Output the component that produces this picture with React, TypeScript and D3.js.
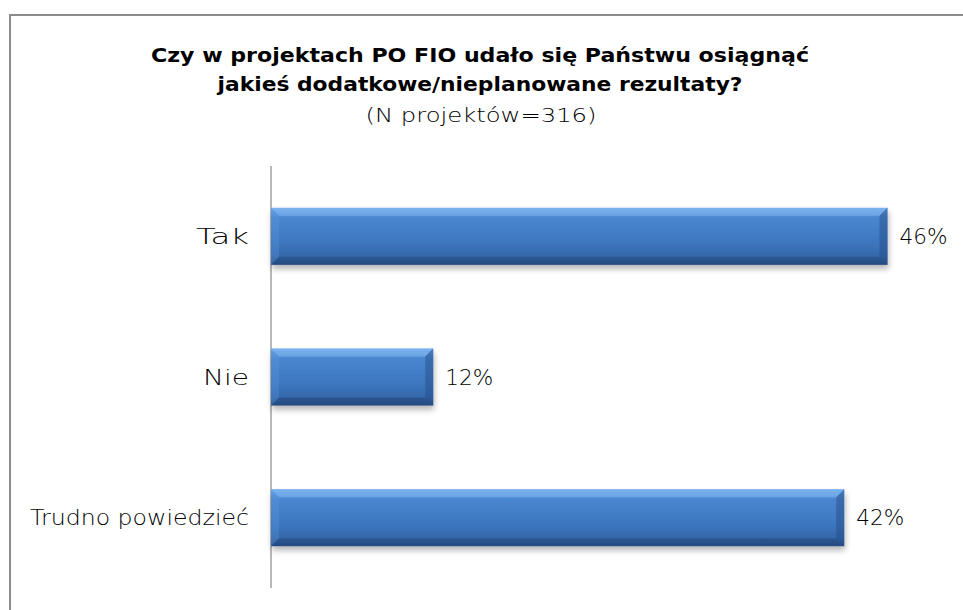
import React from "react";
import * as d3 from "d3";

const categories = ["Tak", "Nie", "Trudno powiedzieć"];
const values = [45.6, 12.0, 42.4];
const titleLines = [
  "Czy w projektach PO FIO udało się  Państwu osiągnąć",
  "jakieś dodatkowe/nieplanowane rezultaty?",
];
const subtitle = "(N projektów=316)";

const W = 963;
const H = 610;
const axisX = 271;
const plotTop = 166;
const plotBottom = 588;

const titleWidths = [658, 525];
const labelWidths = [53, 46, 219];

export default function App() {
  const x = d3.scaleLinear().domain([0, 50]).range([axisX, axisX + 50 * 13.52]);
  const y = d3
    .scaleBand<string>()
    .domain(categories)
    .range([plotTop, plotBottom])
    .paddingInner(0.595)
    .paddingOuter(0.2975);
  const bh = y.bandwidth();
  const font = "'DejaVu Sans', sans-serif";
  return (
    <svg
      width={W}
      height={H}
      style={{ position: "absolute", left: 0, top: 0, background: "#fff" }}
    >
      <defs>
        <linearGradient id="barGrad" x1="0" y1="0" x2="0" y2="1">
          <stop offset="0" stopColor="#6aa6ea" />
          <stop offset="0.18" stopColor="#4a86d0" />
          <stop offset="0.6" stopColor="#3d77c0" />
          <stop offset="0.85" stopColor="#3568ab" />
          <stop offset="1" stopColor="#2a5289" />
        </linearGradient>
        <filter id="shadow" x="-5%" y="-20%" width="110%" height="160%">
          <feGaussianBlur in="SourceAlpha" stdDeviation="3" />
          <feOffset dx="1" dy="4" result="b" />
          <feComponentTransfer>
            <feFuncA type="linear" slope="0.3" />
          </feComponentTransfer>
          <feMerge>
            <feMergeNode />
            <feMergeNode in="SourceGraphic" />
          </feMerge>
        </filter>
      </defs>
      <rect x={10} y={15} width={W + 10} height={H + 10} fill="#fff" stroke="#8c8c8c" strokeWidth={2} />
      <g fontFamily={font} textAnchor="middle" fill="#000">
        {titleLines.map((t, i) => (
          <text
            key={i}
            x={480}
            y={62 + i * 29}
            fontSize={20}
            fontWeight={700}
            textLength={titleWidths[i]}
            lengthAdjust="spacingAndGlyphs"
          >
            {t}
          </text>
        ))}
        <text
          x={481}
          y={122}
          fontSize={20}
          fontWeight={200}
          textLength={231}
          lengthAdjust="spacingAndGlyphs"
        >
          {subtitle}
        </text>
      </g>
      <line x1={axisX} x2={axisX} y1={plotTop} y2={plotBottom} stroke="#a0a0a0" strokeWidth={1.5} />
      {categories.map((c, i) => {
        const x0 = x(0);
        const x1 = x(values[i]);
        const y0 = y(c)!;
        const w = x1 - x0;
        const bev = 8;
        return (
          <g key={c}>
            <g filter="url(#shadow)">
              <rect x={x0} y={y0} width={w} height={bh} fill="url(#barGrad)" />
            </g>
            <polygon
              points={`${x0},${y0} ${x1},${y0} ${x1 - bev},${y0 + bev} ${x0 + bev},${y0 + bev}`}
              fill="#8ec0f5"
              opacity={0.45}
            />
            <polygon
              points={`${x1},${y0} ${x1},${y0 + bh} ${x1 - bev},${y0 + bh - bev} ${x1 - bev},${y0 + bev}`}
              fill="#234a80"
              opacity={0.45}
            />
            <polygon
              points={`${x0},${y0 + bh} ${x1},${y0 + bh} ${x1 - bev},${y0 + bh - bev} ${x0 + bev},${y0 + bh - bev}`}
              fill="#1f4273"
              opacity={0.4}
            />
            <polygon
              points={`${x0},${y0} ${x0 + bev},${y0 + bev} ${x0 + bev},${y0 + bh - bev} ${x0},${y0 + bh}`}
              fill="#5d98de"
              opacity={0.3}
            />
            <text
              x={x0 - 22}
              y={y0 + bh / 2}
              dy="0.36em"
              textAnchor="end"
              fontFamily={font}
              fontSize={21}
              fontWeight={200}
              fill="#000"
              textLength={labelWidths[i]}
              lengthAdjust="spacingAndGlyphs"
            >
              {c}
            </text>
            <text
              x={x1 + 12}
              y={y0 + bh / 2}
              dy="0.36em"
              fontFamily={font}
              fontSize={21}
              fontWeight={200}
              fill="#000"
              textLength={48}
              lengthAdjust="spacingAndGlyphs"
            >
              {`${Math.round(values[i])}%`}
            </text>
          </g>
        );
      })}
    </svg>
  );
}
